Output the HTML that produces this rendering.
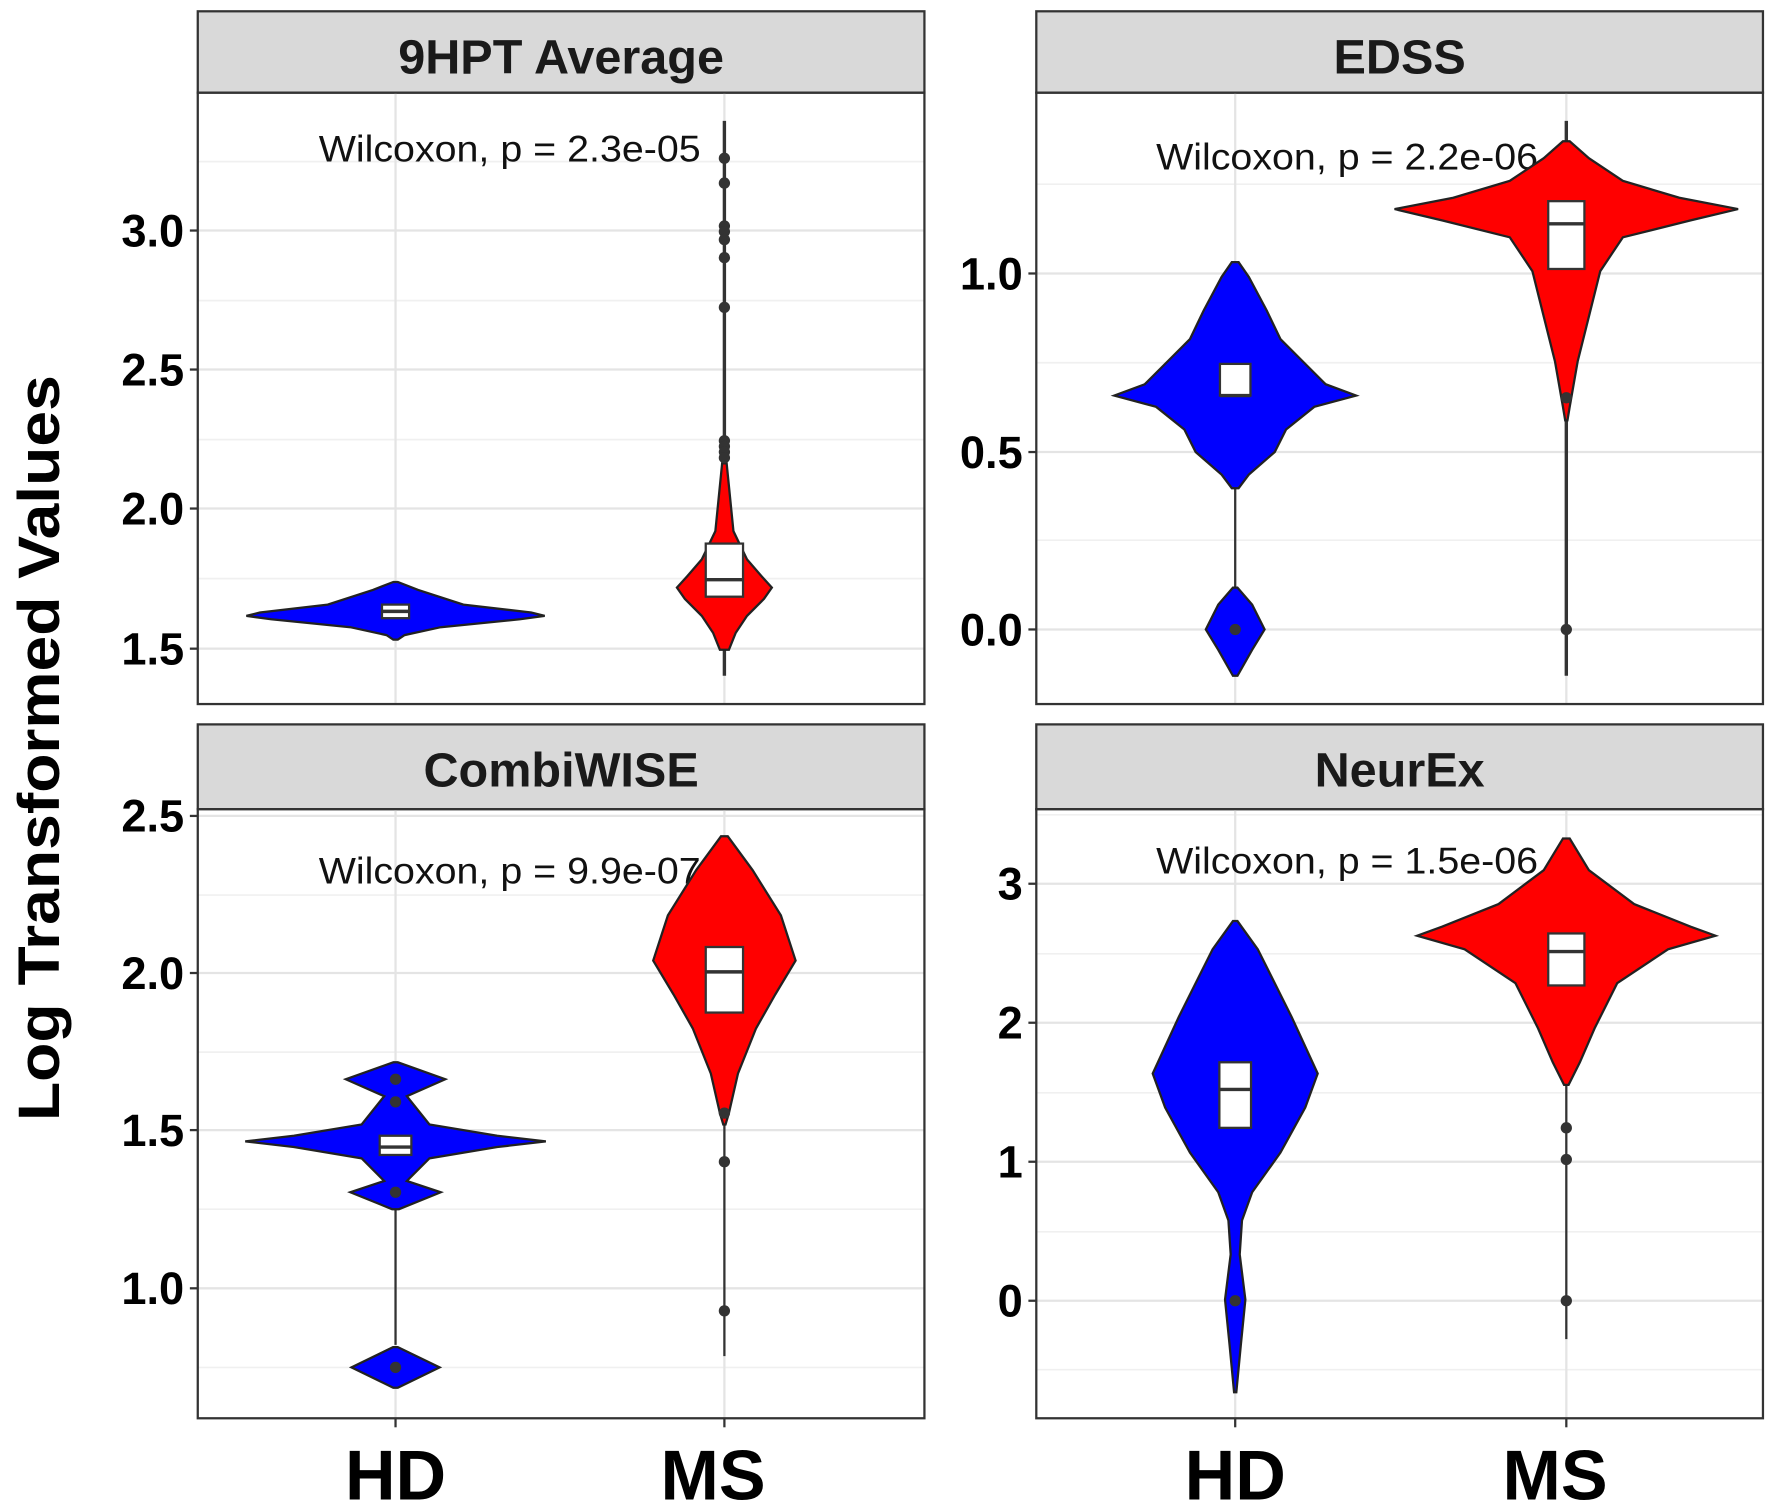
<!DOCTYPE html>
<html><head><meta charset="utf-8"><style>
html,body{margin:0;padding:0;background:#fff}
svg{display:block}
text{font-family:"Liberation Sans",Arial,sans-serif}
</style></head><body>
<svg id="s" width="1772" height="1508" viewBox="0 0 1568 1334.4" preserveAspectRatio="none" xmlns="http://www.w3.org/2000/svg">
<rect width="1568" height="1335" fill="#fff"/>
<g id="g"></g>
<text x="0" y="0" transform="translate(52,662) rotate(-90)" text-anchor="middle" font-size="52" font-weight="bold" textLength="660" lengthAdjust="spacingAndGlyphs">Log Transformed Values</text>
<text x="350" y="1327" text-anchor="middle" font-size="62" font-weight="bold">HD</text>
<text x="631" y="1327" text-anchor="middle" font-size="62" font-weight="bold">MS</text>
<text x="1093" y="1327" text-anchor="middle" font-size="62" font-weight="bold">HD</text>
<text x="1376" y="1327" text-anchor="middle" font-size="62" font-weight="bold">MS</text>
</svg>
<script>
const g=document.getElementById('g');let h='';
function panel(x0,x1,sy0,sy1,py1,title,ticks,minors,xs,wil,wx,wy,bottom){
 h+=`<rect x="${x0}" y="${sy0}" width="${x1-x0}" height="${sy1-sy0}" fill="#d9d9d9" stroke="#333" stroke-width="2"/>`;
 h+=`<text x="${(x0+x1)/2}" y="${sy0+55}" text-anchor="middle" font-size="43" font-weight="bold" fill="#1a1a1a">${title}</text>`;
 minors.forEach(y=>h+=`<line x1="${x0}" x2="${x1}" y1="${y}" y2="${y}" stroke="#f0f0f0" stroke-width="1.5"/>`);
 ticks.forEach(t=>{h+=`<line x1="${x0}" x2="${x1}" y1="${t[1]}" y2="${t[1]}" stroke="#e4e4e4" stroke-width="2"/>`;
  h+=`<line x1="${x0-7}" x2="${x0}" y1="${t[1]}" y2="${t[1]}" stroke="#333" stroke-width="2"/>`;
  h+=`<text x="${x0-12}" y="${t[1]+14}" text-anchor="end" font-size="40" font-weight="bold">${t[0]}</text>`;});
 xs.forEach(x=>{h+=`<line x1="${x}" x2="${x}" y1="${sy1}" y2="${py1}" stroke="#e4e4e4" stroke-width="2"/>`;
  if(bottom)h+=`<line x1="${x}" x2="${x}" y1="${py1}" y2="${py1+8}" stroke="#333" stroke-width="2"/>`;});
 h+=`<text x="${wx}" y="${wy}" font-size="33" fill="#111" textLength="338" lengthAdjust="spacingAndGlyphs">${wil}</text>`;
 h+=`<rect x="${x0}" y="${sy1}" width="${x1-x0}" height="${py1-sy1}" fill="none" stroke="#333" stroke-width="2"/>`;
}
function vio(cx,prof,col){let l='',r='';prof.forEach(p=>{l+=`${cx-p[1]},${p[0]} `;});
 for(let i=prof.length-1;i>=0;i--)r+=`${cx+prof[i][1]},${prof[i][0]} `;
 h+=`<polygon points="${l}${r}" fill="${col}" stroke="#222" stroke-width="2"/>`;}
function line(x,y0,y1,w){h+=`<line x1="${x}" x2="${x}" y1="${y0}" y2="${y1}" stroke="#333" stroke-width="${w||2}"/>`;}
function box(cx,y0,y1,m,w){h+=`<rect x="${cx-w/2}" y="${y0}" width="${w}" height="${y1-y0}" fill="#fff" stroke="#333" stroke-width="2"/><line x1="${cx-w/2}" x2="${cx+w/2}" y1="${m}" y2="${m}" stroke="#333" stroke-width="3"/>`;}
function dot(x,y){h+=`<circle cx="${x}" cy="${y}" r="5" fill="#333"/>`;}

panel(175,818,10,82,623,'9HPT Average',[['1.5',574],['2.0',450],['2.5',327],['3.0',204]],[512,389,266,143],[350,641],'Wilcoxon, p = 2.3e-05',282,143,false);
panel(917,1560,10,82,623,'EDSS',[['0.0',557],['0.5',400],['1.0',242]],[478,321,163],[1093,1386],'Wilcoxon, p = 2.2e-06',1023,150,false);
panel(175,818,641,716,1255,'CombiWISE',[['1.0',1140],['1.5',1000],['2.0',861],['2.5',722]],[1210,1070,931,792],[350,641],'Wilcoxon, p = 9.9e-07',282,782,true);
panel(917,1560,641,716,1255,'NeurEx',[['0',1151],['1',1028],['2',905],['3',782]],[1212,1090,967,844,721],[1093,1386],'Wilcoxon, p = 1.5e-06',1023,773,true);

// TL
vio(350,[[515,2],[522,20],[535,60],[542,120],[545,132],[548,110],[555,40],[562,8],[566,2]],'#0000ff');
box(350,535,547,541,24);
line(641,107,598,3);
vio(641,[[410,2],[470,8],[495,20],[510,33],[520,42],[530,35],[545,20],[560,10],[575,4]],'#ff0000');
box(641,481,528,513,33);
[140,162,200,205,212,228,272,390,395,400,405].forEach(y=>dot(641,y));
// TR
line(1093,232,598,2);
vio(1093,[[232,3],[245,12],[275,28],[300,40],[320,60],[340,80],[350,107],[360,70],[380,45],[400,35],[420,12],[432,3]],'#0000ff');
vio(1093,[[520,2],[535,15],[557,26],[575,15],[598,2]],'#0000ff');
box(1093,322,350,350,27); dot(1093,557);
line(1386,107,598,3);
vio(1386,[[125,3],[140,20],[160,50],[175,100],[185,152],[195,110],[210,50],[240,30],[280,20],[320,10],[360,3],[372,1]],'#ff0000');
box(1386,178,238,198,32); dot(1386,352); dot(1386,557);
// BL
line(350,940,1190,2); line(641,740,1200,2);
vio(350,[[940,2],[955,44],[970,10],[995,30],[1005,90],[1010,133],[1015,90],[1025,30],[1045,10],[1055,40],[1070,3]],'#0000ff');
vio(350,[[1192,2],[1210,39],[1228,2]],'#0000ff');
box(350,1005,1022,1015,28); [955,975,1055].forEach(y=>dot(350,y)); dot(350,1210);
vio(641,[[740,3],[770,25],[810,50],[850,63],[880,45],[910,28],[950,12],[985,4],[995,1]],'#ff0000');
box(641,838,896,860,33); [985,1028,1160].forEach(y=>dot(641,y));
// BR
line(1093,815,1232,2); line(1386,742,1185,2);
vio(1093,[[815,2],[840,20],[900,50],[950,73],[980,62],[1020,40],[1055,15],[1080,6],[1110,4],[1150,9],[1190,5],[1232,1]],'#0000ff');
box(1093,940,998,964,28); dot(1093,1151);
vio(1386,[[742,3],[770,20],[800,60],[820,110],[828,132],[840,90],[870,45],[910,25],[940,12],[960,2]],'#ff0000');
box(1386,826,872,842,32); [998,1026,1151].forEach(y=>dot(1386,y));
g.innerHTML=h;
</script>
</body></html>
